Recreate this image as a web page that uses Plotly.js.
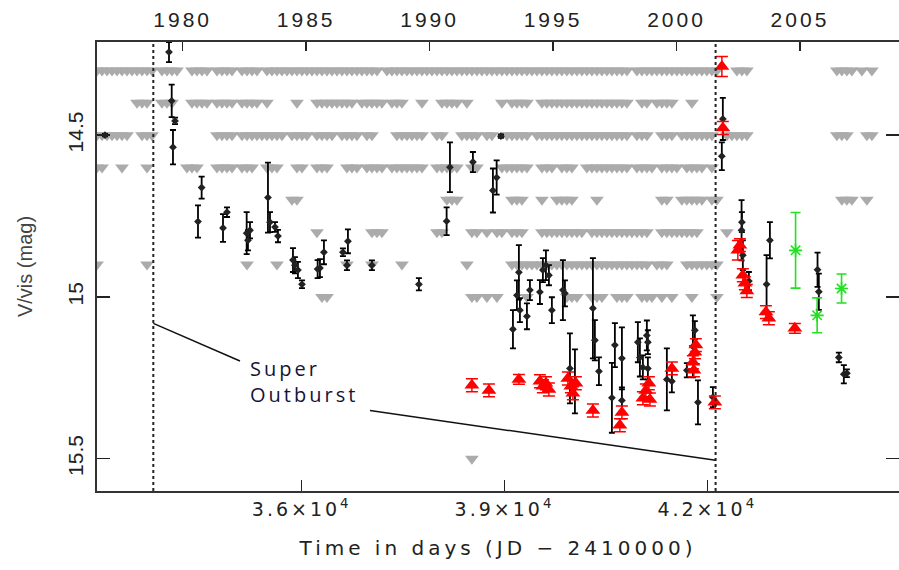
<!DOCTYPE html>
<html><head><meta charset="utf-8">
<script src="https://cdn.plot.ly/plotly-3.0.1.min.js"></script>
<style>
html,body{margin:0;padding:0;background:#fff;}
#chart{width:899px;height:570px;}
.xtick text{letter-spacing:3px;}
.x2tick text{letter-spacing:3px;}
.xtitle{letter-spacing:4px;}
.annotation-text{letter-spacing:3px;}
</style></head><body><div id="chart"></div>
<script>
// ---- axis / tick data ----
const dayTicks = [36000, 39000, 42000];
const dayTickText = ['3.6×10<sup>4</sup>', '3.9×10<sup>4</sup>', '4.2×10<sup>4</sup>'];
const yearTicks = [1980, 1985, 1990, 1995, 2000, 2005];
const magTicks = [14.5, 15, 15.5];
const X_RANGE = [32972, 44836];
const Y_RANGE = [15.600, 14.212];
const JD_1980 = 34239.5; // JD 2444239.5 - 2410000
const superOutburstDays = [33805, 42123];

// ---- upper limits (grey arrows), one array per magnitude row ----
const limMags = [14.3, 14.4, 14.5, 14.6, 14.7, 14.8, 14.9, 15.0, 15.5];
const lim143 = [32972,33046,33120,33194,33268,33342,33416,33490,33564,33638,33712,33786,33933,34007,34081,34155,34377,34451,34525,34599,34747,34821,34895,34969,35117,35191,35265,35338,35486,35560,35634,35708,35782,35856,35930,36004,36078,36152,36226,36300,36374,36448,36522,36596,36670,36743,36817,36891,36965,37039,37113,37261,37335,37409,37483,37557,37631,37705,37779,37853,37927,38001,38075,38149,38222,38296,38370,38444,38518,38592,38666,38740,38814,38888,38962,39036,39110,39184,39258,39332,39406,39480,39554,39628,39701,39775,39849,39923,39997,40071,40145,40219,40293,40367,40441,40515,40589,40663,40737,40811,40959,41033,41107,41180,41254,41328,41402,41476,41550,41624,41698,41772,41846,41920,41994,42068,42142,42438,42512,42586,43917,43991,44065,44139,44287,44435];
const lim144 = [33564,33638,33712,33933,34007,34081,34377,34451,34525,34599,34747,34821,34895,34969,35117,35191,35265,35338,35486,35930,36226,36300,36374,36448,36522,36596,36670,36743,36891,36965,37039,37113,37187,37335,37409,37483,37779,38075,38149,38222,38296,38444,38962,39110,39184,39258,39332,39554,39628,39701,39775,39849,39923,39997,40071,40145,40219,40293,40367,40441,40515,40589,40663,40737,40811,41033,41107,41254,41328,41402,41476,41772];
const lim145 = [32972,33046,33120,33194,33268,33342,33416,33638,33712,33786,34747,34821,34895,34969,35117,35191,35265,35338,35412,35486,35560,35634,35708,35856,35930,36004,36078,36226,36300,36374,36448,36596,36670,36743,36817,36965,37039,37409,37483,37557,37631,37705,37779,38001,38075,38370,38444,38518,38592,38740,38814,39036,39110,39184,39258,39332,39480,39554,39628,39701,39775,39849,39923,39997,40071,40145,40219,40293,40367,40441,40515,40589,40663,40737,40811,40959,41033,41107,41328,41402,41476,41624,41698,41772,41846,41920,41994,42068,42290,42364,42438,42512,42586,43917,43991,44065,44361,44435];
const lim146 = [32972,33046,33342,33712,34303,34377,34451,34747,34821,34895,34969,35117,35191,35265,35486,35560,35634,35930,36004,36226,36300,36374,36670,36743,36817,36965,37039,37113,37187,37335,37409,37483,37557,37631,37705,37779,38001,38075,38149,38222,38296,38518,38592,38962,39036,39110,39184,39258,39332,39554,39628,39701,39849,39923,39997,40219,40293,40367,40441,40515,40589,40663,40737,40811,40959,41033,41107,41180,41328,41402,41476,41550,41698,41772,41846,41920,42068];
const lim147 = [35856,35930,38149,38222,38296,39110,39184,39258,39554,39775,39849,39923,39997,40367,41328,41402,41624,41698,41772,41846,41920,42068,42142,43991,44065,44139,44361];
const lim148 = [36226,37039,37113,37187,38001,38075,38518,38592,38740,38888,38962,39110,39184,39258,39554,39628,39701,39775,39849,39923,39997,40071,40145,40293,40367,40441,40515,40589,40663,40737,40811,40885,40959,41033,41107,41328,41402,41476,41550,41624,41698,41772,41846,42290];
const lim149 = [32972,33712,35191,35634,36670,37039,37483,38444,39110,39184,39258,39332,39406,39480,39554,39628,39701,39775,39849,39923,39997,40071,40145,40219,40293,40367,40441,40515,40589,40663,40737,40811,40885,40959,41033,41107,41254,41328,41402,41698,41772,41846,41920,41994,42068,42142];
const lim150 = [36300,36374,38518,38592,38740,38888,39332,39923,39997,40071,40293,40367,40441,40663,40737,40811,41033,41107,41180,41328,41476,41772,42142];
const lim155 = [38518];
const limRows = [lim143, lim144, lim145, lim146, lim147, lim148, lim149, lim150, lim155];

// ---- V-band measurements (black) ----
const blackDay = [33090,34037,34077,34126,34096,34520,34466,34836,34895,35186,35205,35235,35501,35531,35605,35649,35871,35900,35944,36004,36236,36270,36329,36610,36684,36670,37039,37734,38193,38144,38533,38829,38884,38947,39213,39125,39184,39228,39332,39376,39524,39568,39613,39657,39701,39864,39894,39968,40042,40308,40337,40397,40589,40633,40737,40737,40973,41003,41106,41121,41047,41121,41402,41476,41787,41816,41698,41862,42083,42230,42215,42507,42512,42526,42615,42926,42877,43631,43650,43946,44020,44065];
const blackMag = [14.5,14.243,14.394,14.456,14.537,14.662,14.767,14.787,14.738,14.803,14.825,14.794,14.693,14.769,14.784,14.812,14.886,14.902,14.917,14.961,14.914,14.911,14.862,14.862,14.828,14.902,14.902,14.961,14.599,14.766,14.583,14.671,14.631,14.503,14.924,15.1,14.995,15.041,15.06,14.979,14.985,14.917,14.902,14.933,15.041,14.979,14.989,15.221,15.261,15.035,15.134,15.23,15.312,15.149,15.19,15.32,15.14,15.187,15.119,15.14,15.218,15.221,15.255,15.261,15.153,15.103,15.227,15.326,15.31,14.45,14.565,14.794,14.769,14.871,14.951,14.825,14.961,14.916,14.984,15.187,15.239,15.236];
const blackErr = [0.004,0.031,0.05,0.01,0.053,0.034,0.05,0.043,0.015,0.065,0.031,0.025,0.108,0.031,0.015,0.019,0.037,0.025,0.025,0.012,0.028,0.028,0.037,0.012,0.037,0.015,0.015,0.019,0.077,0.043,0.031,0.068,0.053,0.005,0.084,0.059,0.046,0.037,0.04,0.031,0.037,0.037,0.046,0.031,0.04,0.093,0.04,0.108,0.099,0.155,0.062,0.043,0.108,0.068,0.096,0.04,0.062,0.059,0.046,0.037,0.037,0.034,0.096,0.034,0.096,0.028,0.022,0.068,0.031,0.065,0.043,0.093,0.031,0.046,0.028,0.056,0.09,0.053,0.056,0.015,0.028,0.012];

// ---- red triangles ----
const redDay = [38518,38770,39213,39524,39568,39613,39657,39938,39982,40012,40056,40308,40707,40737,41047,41091,41136,41151,41476,41787,41817,41831,41802,42112,42216,42230,42452,42482,42526,42556,42585,42867,42911,43295];
const redMag = [15.273,15.289,15.255,15.261,15.276,15.267,15.286,15.252,15.276,15.298,15.267,15.351,15.397,15.357,15.313,15.289,15.267,15.317,15.221,15.202,15.171,15.149,15.227,15.326,14.288,14.478,14.856,14.840,14.933,14.958,14.982,15.047,15.066,15.097];
const redErr = [0.02,0.02,0.015,0.02,0.02,0.02,0.02,0.02,0.02,0.02,0.02,0.02,0.02,0.02,0.02,0.02,0.02,0.02,0.02,0.02,0.02,0.02,0.02,0.02,0.031,0.02,0.03,0.02,0.02,0.02,0.02,0.02,0.02,0.015];

// ---- green asterisks ----
const greenDay = [43306, 43625, 43986];
const greenMag = [14.856, 15.057, 14.974];
const greenErr = [0.117, 0.054, 0.045];

const toYear = d => 1980 + (d - JD_1980) / 365.25;

const traces = [];
limRows.forEach((row, i) => {
  traces.push({
    type: 'scatter', mode: 'markers', x: row, y: row.map(() => limMags[i]),
    marker: {symbol: 'triangle-down', size: 12, color: '#ababab', line: {width: 0}},
    hoverinfo: 'skip', showlegend: false
  });
});
traces.push({
  type: 'scatter', mode: 'markers', x: blackDay, y: blackMag,
  error_y: {type: 'data', array: blackErr, visible: true, color: '#000', thickness: 1.8, width: 3},
  marker: {symbol: 'diamond', size: 6, color: '#222'}, showlegend: false
});
traces.push({
  type: 'scatter', mode: 'markers', x: redDay, y: redMag,
  error_y: {type: 'data', array: redErr, visible: true, color: '#ff0000', thickness: 1.5, width: 6},
  marker: {symbol: 'triangle-up', size: 13, color: '#ff0000'}, showlegend: false
});
traces.push({
  type: 'scatter', mode: 'markers', x: greenDay, y: greenMag,
  error_y: {type: 'data', array: greenErr, visible: true, color: '#22e022', thickness: 1.6, width: 5},
  marker: {symbol: 'asterisk-open', size: 11, color: '#22e022', line: {color: '#22e022', width: 1.6}}, showlegend: false
});
// carrier for the calendar-year axis on top
traces.push({
  type: 'scatter', mode: 'markers', xaxis: 'x2', yaxis: 'y',
  x: yearTicks, y: yearTicks.map(() => null), hoverinfo: 'skip', showlegend: false,
  marker: {opacity: 0}
});

const shapes = superOutburstDays.map(d => ({
  type: 'line', xref: 'x', yref: 'paper', x0: d, x1: d, y0: 0, y1: 1,
  line: {color: '#222', width: 2, dash: 'dot'}
}));
shapes.push({type: 'line', xref: 'x', yref: 'y', x0: 33805, y0: 15.082, x1: 35087, y1: 15.198, line: {color: '#111', width: 1.5}});
shapes.push({type: 'line', xref: 'x', yref: 'y', x0: 37010, y0: 15.351, x1: 42123, y1: 15.505, line: {color: '#111', width: 1.5}});

const layout = {
  width: 899, height: 570,
  margin: {l: 97, r: 0, t: 42, b: 79, pad: 0},
  paper_bgcolor: '#fff', plot_bgcolor: '#fff',
  showlegend: false,
  font: {family: 'Liberation Sans, Arial, sans-serif', size: 20, color: '#222'},
  xaxis: {
    range: X_RANGE, tickmode: 'array', tickvals: dayTicks, ticktext: dayTickText,
    ticks: 'inside', ticklen: 11, tickwidth: 1.5, tickcolor: '#222',
    showline: true, linecolor: '#333', linewidth: 2, showgrid: false, zeroline: false,
    tickfont: {family: 'DejaVu Sans', size: 19, color: '#222'},
    ticklabelstandoff: 0,
    title: {text: 'Time in days (JD − 2410000)', font: {family: 'DejaVu Sans', size: 20, color: '#222'}, standoff: 22}
  },
  xaxis2: {
    overlaying: 'x', side: 'top', anchor: 'y',
    range: [toYear(X_RANGE[0]), toYear(X_RANGE[1])],
    tickmode: 'array', tickvals: yearTicks, ticktext: yearTicks.map(String),
    ticks: 'inside', ticklen: 9, tickwidth: 1.5, tickcolor: '#222',
    showline: true, linecolor: '#333', linewidth: 2, showgrid: false, zeroline: false,
    tickfont: {family: 'Liberation Sans', size: 21, color: '#222'},
    ticklabelstandoff: 5
  },
  yaxis: {
    range: Y_RANGE, tickmode: 'array', tickvals: magTicks, ticktext: magTicks.map(String),
    tickangle: -90, ticks: 'inside', ticklen: 13, tickwidth: 1.5, tickcolor: '#222',
    showline: true, linecolor: '#333', linewidth: 2, mirror: 'ticks',
    showgrid: false, zeroline: false,
    tickfont: {family: 'Liberation Sans', size: 21, color: '#222'},
    ticklabelstandoff: 4,
    title: {text: 'V/vis (mag)', font: {family: 'Liberation Sans', size: 20, color: '#444'}, standoff: 26}
  },
  shapes: shapes,
  annotations: [{
    xref: 'x', yref: 'y', x: 35205, y: 15.261, xanchor: 'left', yanchor: 'middle',
    text: 'Super<br>Outburst', align: 'left', showarrow: false,
    font: {family: 'Open Sans', size: 20, color: '#14143a'}
  }]
};

Plotly.newPlot('chart', traces, layout, {staticPlot: true, displayModeBar: false});
</script></body></html>
